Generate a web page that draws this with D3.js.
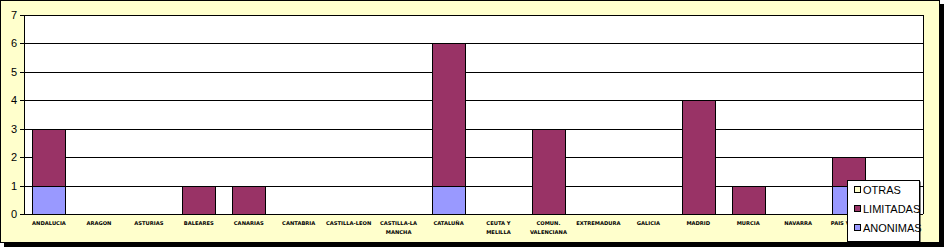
<!DOCTYPE html>
<html>
<head>
<meta charset="utf-8">
<script src="https://cdn.jsdelivr.net/npm/d3@7"></script>
<style>
  body { margin: 0; background: #fff; }
  svg { display: block; }
</style>
</head>
<body>
<div id="chart"></div>
<script>
// chart data
const regions = ["ANDALUCIA", "ARAGON", "ASTURIAS", "BALEARES", "CANARIAS", "CANTABRIA",
  "CASTILLA-LEON", "CASTILLA-LA MANCHA", "CATALUÑA", "CEUTA Y MELILLA", "COMUN. VALENCIANA",
  "EXTREMADURA", "GALICIA", "MADRID", "MURCIA", "NAVARRA", "PAIS VASCO", "LA RIOJA"];
// label lines as printed under the axis
const regionLines = [["ANDALUCIA"], ["ARAGON"], ["ASTURIAS"], ["BALEARES"], ["CANARIAS"], ["CANTABRIA"],
  ["CASTILLA-LEON"], ["CASTILLA-LA", "MANCHA"], ["CATALUÑA"], ["CEUTA Y", "MELILLA"], ["COMUN.", "VALENCIANA"],
  ["EXTREMADURA"], ["GALICIA"], ["MADRID"], ["MURCIA"], ["NAVARRA"], ["PAIS VASCO"], ["LA RIOJA"]];
const anonimas  = [1, 0, 0, 0, 0, 0, 0, 0, 1, 0, 0, 0, 0, 0, 0, 0, 1, 0];
const limitadas = [2, 0, 0, 1, 1, 0, 0, 0, 5, 0, 3, 0, 0, 4, 1, 0, 1, 0];
const otras     = [0, 0, 0, 0, 0, 0, 0, 0, 0, 0, 0, 0, 0, 0, 0, 0, 0, 0];
const seriesNames = ["ANONIMAS", "LIMITADAS", "OTRAS"];
const seriesColors = ["#9999FF", "#993366", "#FFFFCC"];
const yTicks = [0, 1, 2, 3, 4, 5, 6, 7];

const width = 944, height = 247;
const plot = { left: 24, right: 923, top: 15, bottom: 214 };

const svg = d3.select("#chart").append("svg")
  .attr("width", width)
  .attr("height", height);

// frame with shadow
svg.append("rect").attr("x", 4).attr("y", 4).attr("width", 940).attr("height", 243).attr("fill", "#000");
svg.append("rect").attr("x", 0.5).attr("y", 0.5).attr("width", 939).attr("height", 242)
  .attr("fill", "#FFFFCC").attr("stroke", "#000").attr("stroke-width", 1);

// plot background
svg.append("rect")
  .attr("x", plot.left).attr("y", plot.top)
  .attr("width", plot.right - plot.left).attr("height", plot.bottom - plot.top)
  .attr("fill", "#fff");

const x = d3.scaleBand()
  .domain(regions)
  .range([plot.left, plot.right])
  .paddingInner(0.34)
  .paddingOuter(0.17);

const y = d3.scaleLinear()
  .domain([0, 7])
  .range([plot.bottom, plot.top]);

// gridlines
svg.append("g")
  .selectAll("line")
  .data(yTicks)
  .join("line")
  .attr("x1", plot.left - 4)
  .attr("x2", plot.right)
  .attr("y1", d => Math.round(y(d)) + 0.5)
  .attr("y2", d => Math.round(y(d)) + 0.5)
  .attr("stroke", "#000")
  .attr("stroke-width", 1);

// right border of plot area
svg.append("line")
  .attr("x1", plot.right + 0.5).attr("x2", plot.right + 0.5)
  .attr("y1", plot.top).attr("y2", plot.bottom)
  .attr("stroke", "#000");

// y axis labels
svg.append("g")
  .selectAll("text")
  .data(yTicks)
  .join("text")
  .attr("x", 17)
  .attr("y", d => y(d) + 4)
  .attr("text-anchor", "end")
  .attr("font-family", "Arial, 'Liberation Sans', sans-serif")
  .attr("font-size", 11)
  .text(d => d);

// stacked bars
const table = regions.map((r, i) => ({ region: r, ANONIMAS: anonimas[i], LIMITADAS: limitadas[i], OTRAS: otras[i] }));
const stacked = d3.stack().keys(seriesNames)(table);

svg.append("g")
  .selectAll("g")
  .data(stacked)
  .join("g")
  .attr("fill", (d, i) => seriesColors[i])
  .selectAll("rect")
  .data(d => d.filter(p => p[1] - p[0] > 0))
  .join("rect")
  .attr("x", d => Math.round(x(d.data.region)) + 0.5)
  .attr("y", d => Math.round(y(d[1])) + 0.5)
  .attr("width", Math.round(x.bandwidth()))
  .attr("height", d => Math.round(y(d[0])) - Math.round(y(d[1])))
  .attr("stroke", "#000")
  .attr("stroke-width", 1);

// y axis line
svg.append("line")
  .attr("x1", plot.left + 0.5).attr("x2", plot.left + 0.5)
  .attr("y1", plot.top).attr("y2", plot.bottom + 1)
  .attr("stroke", "#000");

// x labels
const xl = svg.append("g")
  .selectAll("text")
  .data(regions)
  .join("text")
  .attr("x", d => x(d) + x.bandwidth() / 2)
  .attr("y", 225)
  .attr("text-anchor", "middle")
  .attr("font-family", "'DejaVu Sans', Verdana, sans-serif")
  .attr("font-size", 5.2)
  .attr("font-weight", "bold");
xl.selectAll("tspan")
  .data((d, i) => regionLines[i])
  .join("tspan")
  .attr("x", function () { return d3.select(this.parentNode).attr("x"); })
  .attr("dy", (d, i) => i === 0 ? 0 : 9)
  .text(d => d);

// legend (drawn over the last label, as in the original)
const legend = svg.append("g").attr("transform", "translate(847,180)");
legend.append("rect").attr("x", 1.5).attr("y", 1.5).attr("width", 72).attr("height", 61).attr("fill", "#000");
legend.append("rect").attr("x", 0.5).attr("y", 0.5).attr("width", 72).attr("height", 61)
  .attr("fill", "#fff").attr("stroke", "#000");
const legendItems = seriesNames.slice().reverse();
const legendColors = seriesColors.slice().reverse();
const li = legend.selectAll("g.item")
  .data(legendItems)
  .join("g")
  .attr("class", "item")
  .attr("transform", (d, i) => `translate(7,${10 + i * 19})`);
li.append("rect")
  .attr("x", 0.5).attr("y", -3.5)
  .attr("width", 6).attr("height", 6)
  .attr("fill", (d, i) => legendColors[i])
  .attr("stroke", "#000");
li.append("text")
  .attr("x", 9)
  .attr("y", 4)
  .attr("font-family", "Arial, 'Liberation Sans', sans-serif")
  .attr("font-size", 11)
  .text(d => d);
</script>
</body>
</html>
